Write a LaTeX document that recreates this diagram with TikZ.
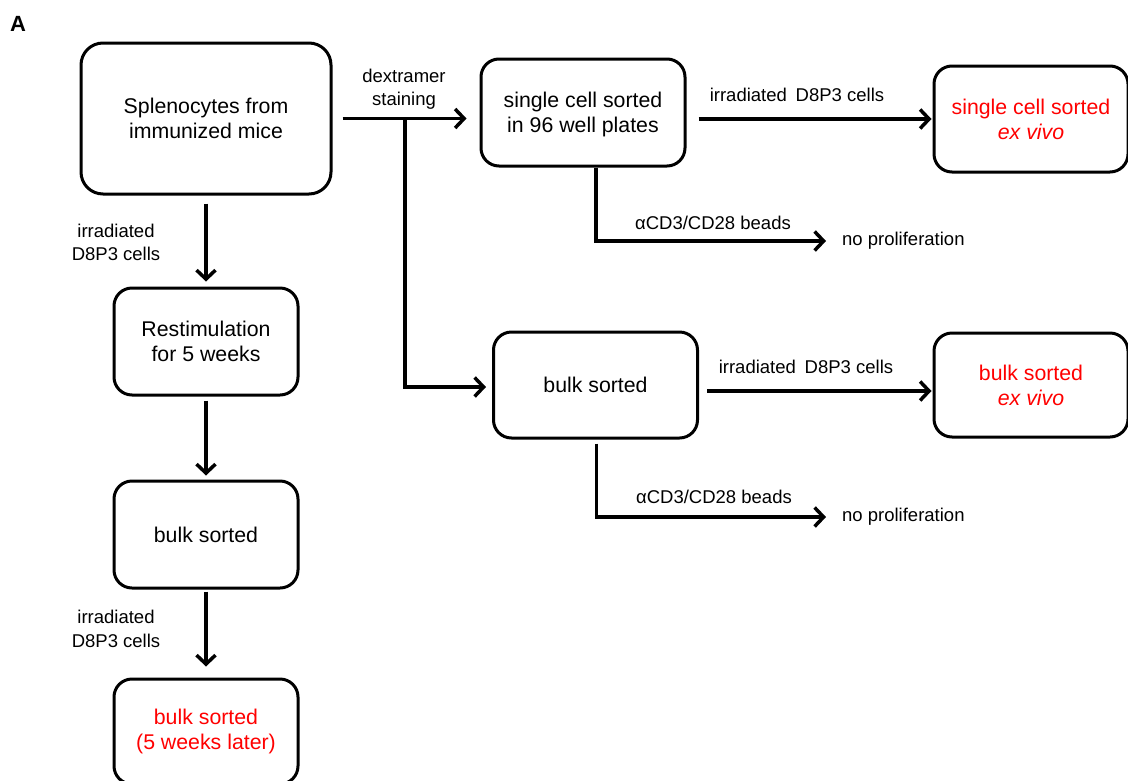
\documentclass[tikz,border=0pt]{standalone}
\usepackage{fontspec}
\setmainfont{Liberation Sans}
\usetikzlibrary{arrows.meta,calc}
\begin{document}
\begin{tikzpicture}[x=1pt,y=-1pt,
  box/.style={draw,line width=3pt,rounded corners=18pt,align=center,inner sep=0pt,
    font=\fontsize{21.3}{25}\selectfont},
  redtxt/.style={text=red},
  lbl/.style={align=center,inner sep=0pt,font=\fontsize{18.5}{23.5}\selectfont},
  arr/.style={line width=3.5pt,-{Straight Barb[length=9pt,width=19pt,line width=3.5pt]}}]
\useasboundingbox (0,0) rectangle (1128,780);
\begin{scope}
\clip (0,0) rectangle (1128,780);
\node[anchor=center,font=\fontsize{22}{25}\selectfont\bfseries] (ttl) at (18,24) {A};
% boxes
\node[box,minimum width=250pt,minimum height=151pt,rounded corners=22pt] (b1) at (206,118.5) {Splenocytes from\\immunized mice};
\node[box,minimum width=184pt,minimum height=107pt] (b2) at (206,341.5) {Restimulation\\for 5 weeks};
\node[box,minimum width=184pt,minimum height=107pt] (b3) at (206,534.5) {bulk sorted};
\node[box,redtxt,minimum width=184pt,minimum height=105pt] (b4) at (206,731.5) {bulk sorted\\(5 weeks later)};
\node[box,minimum width=204pt,minimum height=107pt] (b5) at (583,112.5) {\rule{0pt}{20pt}single cell sorted\\in 96 well plates};
\node[box,redtxt,minimum width=194pt,minimum height=106pt] (b6) at (1031,119) {single cell sorted\\\textit{ex vivo}};
\node[box,minimum width=204pt,minimum height=106pt] (b7) at (595.5,385) {bulk sorted};
\node[box,redtxt,minimum width=194pt,minimum height=104pt] (b8) at (1031,385) {bulk sorted\\\textit{ex vivo}};
% labels
\node[lbl] (l1) at (116,242.5) {irradiated\\D8P3 cells};
\node[lbl] (l2) at (116,629) {irradiated\\D8P3 cells};
\node[lbl] (l3) at (404,89) {dextramer\\staining};
\node[lbl] (l4) at (797,95) {irradiated\hspace{0.2em} D8P3 cells};
\node[lbl] (l5) at (806,367) {irradiated\hspace{0.2em} D8P3 cells};
\node[lbl] (l6) at (713,223) {αCD3/CD28 beads};
\node[lbl] (l7) at (714,497) {αCD3/CD28 beads};
\node[lbl,anchor=west] (np1) at (842,241) {no proliferation};
\node[lbl,anchor=west] (np2) at (842,517) {no proliferation};
% connectors
\draw[arr,shorten <=8pt,shorten >=5pt] (b1.south) -- (b2.north);
\draw[arr,shorten <=4pt,shorten >=4pt] (b2.south) -- (b3.north);
\draw[arr,shorten <=2pt,shorten >=11pt] (b3.south) -- (b4.north);
\draw[arr,shorten <=10pt,shorten >=13pt] (b1.east) -- (b1.east -| b5.west);
\coordinate (br) at (405,118.5);
\draw[arr,shorten >=6pt] (br) |- ($(b7.west)+(0,2)$);
\draw[arr,shorten <=12pt,shorten >=1pt] (b5.east |- b6.west) -- (b6.west);
\draw[arr,shorten >=16pt] ($(b5.south)+(13,0)$) |- (np1.west);
\draw[arr,shorten <=8pt,shorten >=1pt] ($(b7.east)+(0,6)$) -- ($(b8.west)+(0,6)$);
\draw[arr,shorten <=4pt,shorten >=16pt] ($(b7.south)+(1,0)$) |- (np2.west);
\end{scope}
\end{tikzpicture}
\end{document}
